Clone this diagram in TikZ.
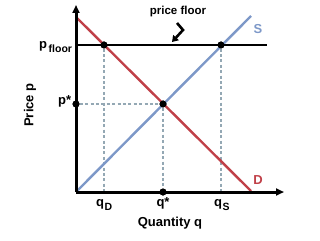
\documentclass[tikz,border=0pt]{standalone}
\usepackage{fontspec}
\setmainfont{Liberation Sans}
\usetikzlibrary{arrows.meta}
\definecolor{dred}{RGB}{192,64,72}
\definecolor{sblue}{RGB}{125,152,200}
\definecolor{dotgray}{RGB}{148,168,180}
\begin{document}
\begin{tikzpicture}[x=1pt,y=-1pt,
  axis/.style={line width=3pt,-{Triangle[length=8pt,width=7pt]}},
  curveD/.style={line width=2.4pt,dred},
  curveS/.style={line width=2.4pt,sblue},
  floorline/.style={line width=2.4pt,black},
  guide/.style={line width=2.8pt,dotgray,dash pattern=on 3pt off 2.4pt},
  pt/.style={circle,fill=black,inner sep=0pt,minimum size=7pt},
  lbl/.style={font=\bfseries\fontsize{13}{13}\selectfont,inner sep=0pt},
  sublbl/.style={font=\bfseries\fontsize{10.5}{10.5}\selectfont,inner sep=0pt},
  curvelbl/.style={font=\bfseries\fontsize{13}{13}\selectfont,inner sep=0pt}]
\useasboundingbox (0,0) rectangle (320,240);
% axes
\coordinate (O) at (76,192);
\coordinate (ytop) at (76,5);
\coordinate (xend) at (284,192);
% curves
\coordinate (D1) at (77,18);
\coordinate (D2) at (251,191);
\coordinate (S1) at (77,191);
\coordinate (S2) at (251,16);
\coordinate (F1) at (76,45);
\coordinate (F2) at (267,45);
% guides
\coordinate (qDb) at (104,192);
\coordinate (qSb) at (221,192);
\node[pt] (qstar) at (163,192) {};
\node[pt] (pstar) at (76,104) {};
\node[pt] (E) at (163,104) {};
\node[pt] (FD) at (104,45) {};
\node[pt] (FS) at (221,45) {};
\draw[guide] (pstar) -- (E);
\draw[guide] (E) -- (qstar);
\draw[guide] (FD) -- (qDb);
\draw[guide] (FS) -- (qSb);
\draw[curveD] (D1) -- (D2);
\draw[curveS] (S1) -- (S2);
\draw[floorline] (F1) -- (F2);
\draw[axis] (O) -- (ytop);
\draw[axis] (O) -- (xend);
\node[pt] at (E) {};
\node[pt] at (FD) {};
\node[pt] at (FS) {};
\node[pt] at (pstar) {};
\node[pt] at (qstar) {};
% curve labels
\node[curvelbl,text=sblue] (Slab) at (258,29) {S};
\node[curvelbl,text=dred] (Dlab) at (258,180) {D};
% price floor label and arrow
\node[font=\bfseries\fontsize{11.5}{11.5}\selectfont,inner sep=0pt] (pfloortxt) at (178,12) {price floor};
\coordinate (a1) at (177,23);
\coordinate (a2) at (183,30);
\coordinate (a3) at (172,42);
\draw[line width=2.6pt,-{Triangle[length=6pt,width=7.5pt]}] (a1) -- (a2) -- (a3);
% axis tick labels
\node[lbl,anchor=base west] (pf) at (39,49) {p};
\node[sublbl,anchor=base west] (pfsub) at (48.5,53) {floor};
\node[lbl,anchor=base west] (ps) at (58,105) {p*};
\node[lbl,anchor=base west] (qD) at (96,206) {q};
\node[sublbl,anchor=base west] (qDsub) at (104.5,210) {D};
\node[lbl,anchor=base] (qs) at (163,206) {q*};
\node[lbl,anchor=base west] (qS) at (214,206) {q};
\node[sublbl,anchor=base west] (qSsub) at (222.5,210) {S};
% axis titles
\node[lbl] (xt) at (170,223) {Quantity q};
\node[lbl,rotate=90] (yt) at (30,105) {Price p};
\end{tikzpicture}
\end{document}
